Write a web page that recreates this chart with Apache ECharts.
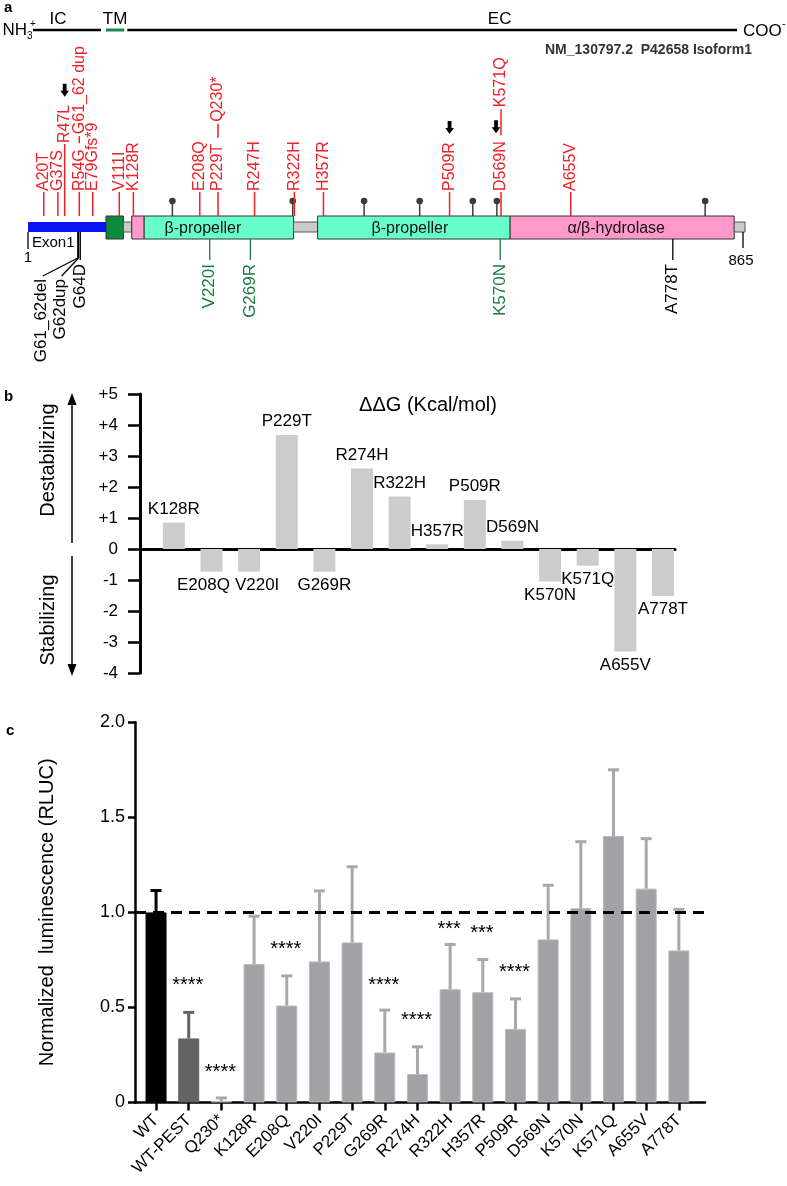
<!DOCTYPE html>
<html>
<head>
<meta charset="utf-8">
<script src="https://cdn.jsdelivr.net/npm/echarts@6.0.0/dist/echarts.min.js"></script>
<style>html,body{margin:0;padding:0;background:#fff}#chart{width:787px;height:1186px}</style>
</head>
<body>
<div id="chart"></div>
<script>
// ================= DATA =================
// Panel a: protein map (residue numbers)
const proteinLength = 865;
const topoStart = [1, 95, 117];
const topoEnd   = [95, 117, 865];
const topoLabel = ['IC', 'TM', 'EC'];
const domainStart = [1, 95, 116, 126, 141, 321, 350, 582, 852];
const domainEnd   = [95, 116, 126, 141, 321, 350, 582, 852, 865];
const domainType  = ['exon', 'tm', 'linker', 'stalk', 'propeller', 'linker', 'propeller', 'hydrolase', 'linker'];
const domainLabel = ['Exon1', '', '', '', 'β-propeller', '', 'β-propeller', 'α/β-hydrolase', ''];
const glycoSites = [175, 320, 406, 473, 537, 566, 817];
const upperMutations = ['A20T', 'G37S', 'R47L', 'R54G', 'G61_62 dup', 'E79Gfs*9', 'V111I', 'K128R', 'E208Q', 'P229T', 'Q230*', 'R247H', 'R322H', 'H357R', 'P509R', 'D569N', 'K571Q', 'A655V'];
const upperResidues  = [20, 37, 47, 54, 61, 79, 111, 128, 208, 229, 230, 274, 322, 357, 509, 569, 571, 655];
const arrowMutations = ['R47L', 'P509R', 'D569N'];
const lowerMutations = ['G61_62del', 'G62dup', 'G64D', 'V220I', 'G269R', 'K570N', 'A778T'];
const lowerResidues  = [61, 62, 64, 220, 269, 570, 778];
const lowerGroup     = ['A', 'A', 'A', 'B', 'B', 'B', 'A'];

// Panel b: ΔΔG (kcal/mol)
const ddgNames  = ['K128R', 'E208Q', 'V220I', 'P229T', 'G269R', 'R274H', 'R322H', 'H357R', 'P509R', 'D569N', 'K570N', 'K571Q', 'A655V', 'A778T'];
const ddgValues = [0.85, -0.73, -0.73, 3.68, -0.73, 2.60, 1.69, 0.15, 1.58, 0.27, -1.05, -0.54, -3.31, -1.52];
const ddgTicks  = [-4, 5, 1];

// Panel c: normalized luminescence
const lumNames  = ['WT', 'WT-PEST', 'Q230*', 'K128R', 'E208Q', 'V220I', 'P229T', 'G269R', 'R274H', 'R322H', 'H357R', 'P509R', 'D569N', 'K570N', 'K571Q', 'A655V', 'A778T'];
const lumMean   = [1.00, 0.337, 0.008, 0.728, 0.51, 0.742, 0.842, 0.263, 0.15, 0.596, 0.58, 0.387, 0.858, 1.022, 1.402, 1.125, 0.80];
const lumErrTop = [1.115, 0.474, 0.024, 0.98, 0.666, 1.113, 1.24, 0.486, 0.293, 0.831, 0.752, 0.545, 1.143, 1.372, 1.75, 1.388, 1.016];
const lumStars  = ['', '****', '****', '', '****', '', '', '****', '****', '***', '***', '****', '', '', '', '', ''];
const lumStarY  = [null, 0.635, 0.18, null, 0.824, null, null, 0.638, 0.45, 0.93, 0.91, 0.705, null, null, null, null, null];
const lumRef = 1.0;

// ================= LAYOUT / STYLE =================
const FF = '"Liberation Sans", Arial, Helvetica, sans-serif';
const fnt = (s, bold) => (bold ? 'bold ' : '') + s + 'px ' + FF;
const mctx = document.createElement('canvas').getContext('2d');
function textW(t, size) { mctx.font = fnt(size); return mctx.measureText(t).width; }

const LA = {
  topoY: 30, topoLabelY: 19, topoLabelDx: { IC: -9, TM: 0, EC: 65 },
  trackTop: 216, trackBot: 239, thinTop: 222, thinBot: 232,
  stemTop: 192, glycoHeadY: 201,
  upperSize: 16, lowerSize: 17,
  raised: { 'R47L': 48 },
  colDx: { 'R47L': -1.5, 'G61_62 dup': 1.5 },
  stackOn: { 'G61_62 dup': 'R54G', 'Q230*': 'P229T', 'K571Q': 'D569N' },
  stackLeader: { 'G61_62 dup': 7, 'Q230*': 14, 'K571Q': 26 },
  arrowDx: { 'D569N': -5 },
  fanDx: { 'G61_62del': -36, 'G62dup': -18 },
  domainLabelDx: { 4: -16, 6: -4, 7: -6 },
  ddgLabelDx: { 'E208Q': -8, 'V220I': 8 }
};
const RED = '#ee2127';
const GREEN = '#1c7a43';
const DOMAIN_STYLE = {
  exon: { fill: '#0a14f0', thin: true },
  tm: { fill: '#0b8c3c', stroke: '#333' },
  linker: { fill: '#cbcbcb', stroke: '#555', thin: true },
  stalk: { fill: '#ff99cc', stroke: '#333' },
  propeller: { fill: '#66ffcc', stroke: '#333' },
  hydrolase: { fill: '#ff99cc', stroke: '#333' }
};
const GROUP_COLOR = { A: '#000000', B: GREEN };

function line(x1, y1, x2, y2, color, w) {
  return { type: 'line', shape: { x1, y1, x2, y2 }, style: { stroke: color, lineWidth: w } };
}
function txt(t, x, y, size, color, align, va, rot, bold) {
  return { type: 'text', x, y, rotation: rot || 0,
    style: { text: t, font: fnt(size, bold), fill: color, align, verticalAlign: va } };
}
function arrowDown(x, yb) {
  return { type: 'polygon', shape: { points: [
    [x - 1.9, yb - 13], [x + 1.9, yb - 13], [x + 1.9, yb - 6], [x + 4.3, yb - 6],
    [x, yb], [x - 4.3, yb - 6], [x - 1.9, yb - 6]] }, style: { fill: '#000' } };
}
const X = (api, r) => api.coord([r, 0.5])[0];

// ---------- panel a renderers ----------
function renderTopo(params, api) {
  const i = params.dataIndex, n = topoLabel.length;
  const x0 = X(api, topoStart[i]), x1 = X(api, topoEnd[i]);
  const lab = topoLabel[i], y = LA.topoY, ch = [];
  if (lab === 'TM') ch.push(line(x0, y, x1, y, '#1f8a4c', 3));
  else ch.push(line(i === 0 ? x0 + 5 : x0 + 3, y, i === n - 1 ? x1 - 8 : x1 - 5, y, '#000', 2.5));
  ch.push(txt(lab, (x0 + x1) / 2 + LA.topoLabelDx[lab], LA.topoLabelY, 17, '#000', 'center', 'middle'));
  if (i === 0) {
    ch.push(txt('NH', x0 - 1, y, 17, '#000', 'right', 'middle'));
    ch.push(txt('3', x0 - 1, y + 6, 10, '#000', 'left', 'middle'));
    ch.push(txt('+', x0 + 2, y - 6, 10, '#000', 'left', 'middle'));
  }
  if (i === n - 1) {
    ch.push(txt('COO', x1 - 2, y + 1, 17, '#000', 'left', 'middle'));
    ch.push(txt('-', x1 + 37, y - 6, 11, '#000', 'left', 'middle'));
  }
  return { type: 'group', children: ch };
}

function renderDomain(params, api) {
  const i = params.dataIndex, n = domainType.length;
  const x0 = X(api, domainStart[i]), x1 = X(api, domainEnd[i]);
  const st = DOMAIN_STYLE[domainType[i]];
  const y0 = st.thin ? LA.thinTop : LA.trackTop, y1 = st.thin ? LA.thinBot : LA.trackBot;
  const ch = [{ type: 'rect', shape: { x: x0, y: y0, width: x1 - x0, height: y1 - y0 },
    style: { fill: st.fill, stroke: st.stroke || null, lineWidth: st.stroke ? 1 : 0 } }];
  if (domainLabel[i]) {
    if (domainType[i] === 'exon') ch.push(txt(domainLabel[i], x0 + 4, 243, 15, '#000', 'left', 'middle'));
    else ch.push(txt(domainLabel[i], (x0 + x1) / 2 + (LA.domainLabelDx[i] || 0), (LA.trackTop + LA.trackBot) / 2 + 1, 16, '#111', 'center', 'middle'));
  }
  if (i === 0) {
    ch.push(line(x0, y1, x0, 249, '#000', 1.3));
    ch.push(txt(String(domainStart[0]), x0, 250, 15, '#000', 'center', 'top'));
  }
  if (i === n - 1) {
    ch.push(line(x1 - 2, y1, x1 - 2, 248, '#000', 1.3));
    ch.push(txt(String(proteinLength), x1 - 4, 253, 15, '#000', 'center', 'top'));
  }
  return { type: 'group', children: ch };
}

function renderGlyco(params, api) {
  const x = X(api, glycoSites[params.dataIndex]);
  return { type: 'group', children: [
    line(x, LA.trackTop, x, LA.glycoHeadY, '#3a3a3a', 1.5),
    { type: 'circle', shape: { cx: x, cy: LA.glycoHeadY, r: 3.3 }, style: { fill: '#3a3a3a' } }
  ] };
}

// a stacked pair of labels shares the column of the upper (stacked) variant
function upperColX(api, name) {
  let key = name;
  const upper = Object.keys(LA.stackOn).find(k => LA.stackOn[k] === name);
  if (upper) key = upper;
  return X(api, upperResidues[upperMutations.indexOf(key)]) + (LA.colDx[key] || 0);
}

function renderUpper(params, api) {
  const i = params.dataIndex, name = upperMutations[i];
  const x = upperColX(api, name), ch = [], fs = LA.upperSize;
  let textBottom;
  if (LA.stackOn[name]) {
    const lowerTop = LA.stemTop - 1 - textW(LA.stackOn[name], fs);
    const ya = lowerTop - 6, yb = ya - LA.stackLeader[name];
    ch.push(line(x, ya, x, yb, RED, 1.5));
    textBottom = yb - 2;
  } else {
    const top = LA.stemTop - (LA.raised[name] || 0);
    ch.push(line(x, LA.trackTop, x, top, RED, 1.5));
    textBottom = top - 1;
  }
  ch.push(txt(name, x, textBottom, fs, RED, 'left', 'middle', Math.PI / 2));
  if (arrowMutations.indexOf(name) >= 0) {
    ch.push(arrowDown(x + (LA.arrowDx[name] || 0), textBottom - textW(name, fs) - 8));
  }
  return { type: 'group', children: ch };
}

function thinAt(r) {
  for (let k = 0; k < domainType.length; k++) {
    if (r >= domainStart[k] && r <= domainEnd[k]) return !!DOMAIN_STYLE[domainType[k]].thin;
  }
  return false;
}

function renderLower(params, api) {
  const i = params.dataIndex, name = lowerMutations[i];
  const x = X(api, lowerResidues[i]), col = GROUP_COLOR[lowerGroup[i]];
  const y0 = thinAt(lowerResidues[i]) ? LA.thinBot : LA.trackBot;
  const ch = [], dx = LA.fanDx[name], fs = LA.lowerSize;
  if (dx !== undefined) {
    ch.push(line(x, y0, x, 258, col, 1.3));
    ch.push(line(x, 258, x + dx + 1, 276, col, 1.3));
    ch.push(txt(name, x + dx, 279, fs, col, 'right', 'middle', Math.PI / 2));
  } else {
    ch.push(line(x, y0, x, 260, col, 1.3));
    ch.push(txt(name, x, 264, fs, col, 'right', 'middle', Math.PI / 2));
  }
  return { type: 'group', children: ch };
}

// ---------- panel c renderers ----------
function barColorC(i) { return i === 0 ? '#000000' : (i === 1 ? '#636363' : '#a2a2a6'); }
function errColorC(i) { return i === 0 ? '#000000' : (i === 1 ? '#636363' : '#a8a8ab'); }
function renderErr(params, api) {
  const i = params.dataIndex, c = errColorC(i);
  const pb = api.coord([i + 1, lumMean[i]]), pt = api.coord([i + 1, lumErrTop[i]]);
  const ch = [line(pb[0], pb[1], pt[0], pt[1], c, 3), line(pt[0] - 5.5, pt[1], pt[0] + 5.5, pt[1], c, 3)];
  if (lumStars[i]) {
    const ps = api.coord([i + 1, lumStarY[i]]);
    ch.push(txt(lumStars[i], ps[0] - 1, ps[1] + 4, 20, '#000', 'center', 'middle'));
  }
  return { type: 'group', children: ch };
}

const lumIdx = lumNames.map((_, i) => i + 1);

const option = {
  animation: false,
  backgroundColor: '#ffffff',
  textStyle: { fontFamily: FF },
  grid: [
    { left: 28, width: 717, top: 10, height: 380 },
    { left: 140, width: 535, top: 394, height: 279 },
    { left: 135, width: 570, top: 722.3, height: 380.2 }
  ],
  xAxis: [
    { gridIndex: 0, type: 'value', min: 1, max: proteinLength, show: false },
    { gridIndex: 1, type: 'value', min: 0.1, max: 14.32,
      axisLine: { show: true, onZero: true, lineStyle: { color: '#000', width: 3 } },
      axisTick: { show: false }, axisLabel: { show: false }, splitLine: { show: false } },
    { gridIndex: 2, type: 'value', min: 0.356, max: 17.8,
      axisLine: { show: true, onZero: true, lineStyle: { color: '#000', width: 2.5 } },
      axisTick: { show: true, customValues: lumIdx, length: 8, lineStyle: { color: '#000', width: 2.5 } },
      axisLabel: { show: true, customValues: lumIdx, formatter: v => lumNames[Math.round(v) - 1] || '',
        rotate: 45, fontSize: 17, color: '#000', margin: 15, fontFamily: FF },
      splitLine: { show: false } }
  ],
  yAxis: [
    { gridIndex: 0, type: 'value', min: 0, max: 1, show: false },
    { gridIndex: 1, type: 'value', min: ddgTicks[0], max: ddgTicks[1], interval: ddgTicks[2],
      axisLine: { show: true, onZero: false, lineStyle: { color: '#000', width: 3 } },
      axisTick: { show: true, length: 12, lineStyle: { color: '#000', width: 2.5 } },
      axisLabel: { formatter: v => (v > 0 ? '+' + v : String(v)), fontSize: 17, color: '#000', margin: 22, fontFamily: FF },
      splitLine: { show: false } },
    { gridIndex: 2, type: 'value', min: 0, max: 2, interval: 0.5,
      axisLine: { show: true, onZero: false, lineStyle: { color: '#000', width: 2.5 } },
      axisTick: { show: true, length: 7, lineStyle: { color: '#000', width: 2.5 } },
      axisLabel: { formatter: v => (v === 0 ? '0' : v.toFixed(1)), fontSize: 18, color: '#000', margin: 10, fontFamily: FF },
      splitLine: { show: false },
      name: 'Normalized  luminescence (RLUC)', nameLocation: 'middle', nameRotate: 90, nameGap: 78,
      nameTextStyle: { fontSize: 20, color: '#000', fontFamily: FF } }
  ],
  series: [
    { type: 'custom', xAxisIndex: 0, yAxisIndex: 0, clip: false, renderItem: renderTopo, data: topoStart.map(s => [s, 0.5]), z: 2 },
    { type: 'custom', xAxisIndex: 0, yAxisIndex: 0, clip: false, renderItem: renderDomain, data: domainStart.map(s => [s, 0.5]), z: 2 },
    { type: 'custom', xAxisIndex: 0, yAxisIndex: 0, clip: false, renderItem: renderGlyco, data: glycoSites.map(s => [s, 0.5]), z: 3 },
    { type: 'custom', xAxisIndex: 0, yAxisIndex: 0, clip: false, renderItem: renderUpper, data: upperResidues.map(s => [s, 0.5]), z: 4 },
    { type: 'custom', xAxisIndex: 0, yAxisIndex: 0, clip: false, renderItem: renderLower, data: lowerResidues.map(s => [s, 0.5]), z: 4 },
    { type: 'bar', xAxisIndex: 1, yAxisIndex: 1, barWidth: 22,
      itemStyle: { color: '#cccccc' },
      label: { show: true, fontSize: 17, color: '#000', distance: 5, fontFamily: FF,
        formatter: p => ddgNames[p.dataIndex] },
      data: ddgValues.map((v, i) => ({ value: [i + 1, v],
        label: { position: v >= 0 ? 'top' : 'bottom', offset: [LA.ddgLabelDx[ddgNames[i]] || 0, 0] } })) },
    { type: 'bar', xAxisIndex: 2, yAxisIndex: 2, barWidth: 21, z: 2,
      data: lumMean.map((v, i) => ({ value: [i + 1, v],
        itemStyle: { color: barColorC(i), borderColor: i > 1 ? '#b9b9bb' : barColorC(i), borderWidth: 1 } })),
      markLine: { silent: true, symbol: 'none', label: { show: false },
        lineStyle: { color: '#000', width: 3, type: [11, 7] }, data: [{ yAxis: lumRef }] } },
    { type: 'custom', xAxisIndex: 2, yAxisIndex: 2, clip: false, z: 3, renderItem: renderErr,
      data: lumMean.map((v, i) => [i + 1, v]) }
  ],
  graphic: { elements: [
    { type: 'text', x: 4, y: 8, style: { text: 'a', font: fnt(15, true), fill: '#000', verticalAlign: 'middle' } },
    { type: 'text', x: 545, y: 50, style: { text: 'NM_130797.2  P42658 Isoform1', font: fnt(14, true), fill: '#333', verticalAlign: 'middle' } },
    { type: 'text', x: 4, y: 397, style: { text: 'b', font: fnt(15, true), fill: '#000', verticalAlign: 'middle' } },
    { type: 'text', x: 6, y: 731, style: { text: 'c', font: fnt(15, true), fill: '#000', verticalAlign: 'middle' } },
    { type: 'text', x: 428, y: 405, style: { text: 'ΔΔG (Kcal/mol)', font: fnt(20), fill: '#000', align: 'center', verticalAlign: 'middle' } },
    { type: 'text', x: 48, y: 460, rotation: Math.PI / 2, style: { text: 'Destabilizing', font: fnt(20), fill: '#000', align: 'center', verticalAlign: 'middle' } },
    { type: 'text', x: 48, y: 620, rotation: Math.PI / 2, style: { text: 'Stabilizing', font: fnt(20), fill: '#000', align: 'center', verticalAlign: 'middle' } },
    { type: 'line', shape: { x1: 72, y1: 543, x2: 72, y2: 402 }, style: { stroke: '#000', lineWidth: 1.5 } },
    { type: 'polygon', shape: { points: [[72, 393], [67.5, 405], [76.5, 405]] }, style: { fill: '#000' } },
    { type: 'line', shape: { x1: 72, y1: 556, x2: 72, y2: 666 }, style: { stroke: '#000', lineWidth: 1.5 } },
    { type: 'polygon', shape: { points: [[72, 676], [67.5, 664], [76.5, 664]] }, style: { fill: '#000' } }
  ] }
};

const chart = echarts.init(document.getElementById('chart'), null, { renderer: 'canvas' });
chart.setOption(option);
</script>
</body>
</html>
